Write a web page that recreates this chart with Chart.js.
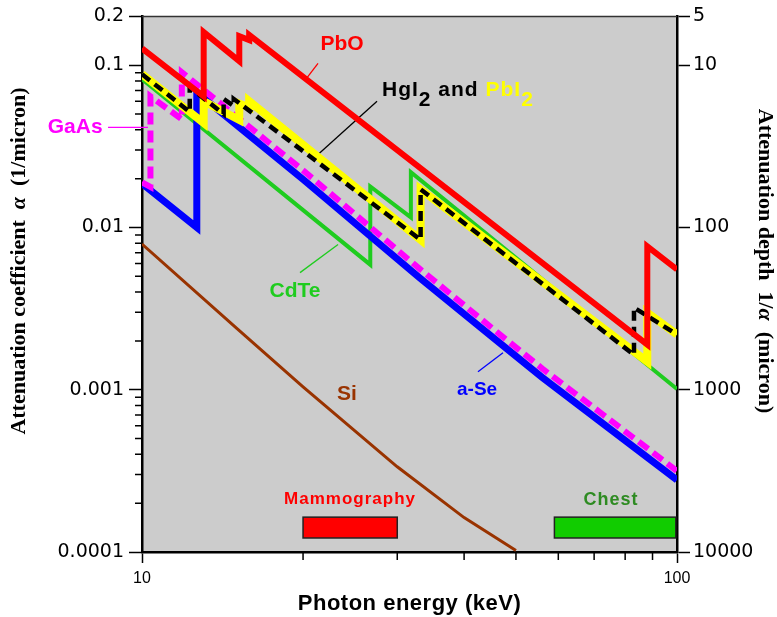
<!DOCTYPE html>
<html>
<head>
<meta charset="utf-8">
<script src="https://cdn.jsdelivr.net/npm/chart.js@4.4.1/dist/chart.umd.min.js"></script>
<style>
  body { margin: 0; background: #fff; }
  canvas { display: block; }
</style>
</head>
<body>
<canvas id="chart" width="777" height="617"></canvas>
<script>
// Photon energy (keV) and attenuation coefficient alpha (1/micron)
// absorption edges appear twice (value below / above the edge)
const pboEnergy = [10, 13.04, 13.04, 15.2, 15.2, 15.86, 15.86, 88.0, 88.0, 100];
const pboAlpha = [0.127, 0.0644, 0.16, 0.106, 0.151, 0.143, 0.154, 0.0019, 0.00764, 0.00551];

const hgi2Energy = [10, 12.28, 12.28, 14.21, 14.21, 14.84, 14.84, 33.17, 33.17, 83.1, 83.1, 100];
const hgi2Alpha = [0.088, 0.0516, 0.0731, 0.05, 0.062, 0.056, 0.062, 0.0084, 0.0172, 0.00164, 0.00321, 0.00219];

const pbi2Energy = [10, 13.04, 13.04, 15.2, 15.2, 15.86, 15.86, 33.17, 33.17, 88.0, 88.0, 100];
const pbi2Alpha = [0.088, 0.044, 0.06, 0.046, 0.058, 0.055, 0.06, 0.0084, 0.0172, 0.00149, 0.00299, 0.00219];

const gaasEnergy = [10, 10.37, 10.37, 11.87, 11.87, 20, 33, 47, 56, 72, 100];
const gaasAlpha = [0.019, 0.0178, 0.0644, 0.0464, 0.0906, 0.0225, 0.00558, 0.00215, 0.00135, 0.000721, 0.000316];

const aseEnergy = [10, 12.66, 12.66, 20, 33, 47, 56, 72, 100];
const aseAlpha = [0.0187, 0.01, 0.068, 0.0198, 0.00491, 0.0019, 0.00119, 0.000634, 0.000278];

const cdteEnergy = [10, 26.71, 26.71, 31.81, 31.81, 100];
const cdteAlpha = [0.082, 0.0059, 0.0179, 0.01153, 0.0219, 0.00101];

const siEnergy = [10, 15, 20, 30, 40, 50];
const siAlpha = [0.0079, 0.00241, 0.00104, 0.000335, 0.000163, 0.000102];

// imaging energy bands (keV)
const mammoBand = [20, 30];
const chestBand = [59, 99.5];
const bandAlpha = [0.000122, 0.000164];

// axis ticks
const energyTicks = [10, 100];
const energyLabels = ["10", "100"];
const energyMinor = [20, 30, 40, 50, 60, 70, 80, 90];
const alphaTicks = [0.0001, 0.001, 0.01, 0.1, 0.2];
const alphaLabels = ["0.0001", "0.001", "0.01", "0.1", "0.2"];
const depthTicks = [10000, 1000, 100, 10, 5];

function toPoints(energy, alpha) {
  return energy.map((e, i) => ({ x: e, y: alpha[i] }));
}

// labels placed at [energy, alpha]
const labels = [
  { text: "PbO", e: 23.65, a: 0.1348, color: "#ff0000", size: 21 },
  { text: "GaAs", e: 7.5, a: 0.0414, color: "#ff00ff", size: 21 },
  { text: "CdTe", e: 19.32, a: 0.00403, color: "#1fcc1f", size: 21 },
  { text: "a-Se", e: 42.3, a: 0.001, color: "#0000ff", size: 19 },
  { text: "Si", e: 24.16, a: 0.000945, color: "#993300", size: 21 },
  { text: "Mammography", e: 24.48, a: 0.000212, color: "#ff0000", size: 17, spacing: "1px" },
  { text: "Chest", e: 75.3, a: 0.00021, color: "#2e8b22", size: 18, spacing: "1px" },
];

// leader lines from label to curve
const leaders = [
  { e: [21.33, 20.25], a: [0.1028, 0.082], color: "#ff0000" },
  { e: [27.5, 21.33], a: [0.06, 0.0282], color: "#000000" },
  { e: [8.64, 10.26], a: [0.0414, 0.0414], color: "#ff00ff" },
  { e: [19.74, 23.25], a: [0.00527, 0.00785], color: "#1fcc1f" },
  { e: [42.46, 47.29], a: [0.00129, 0.00169], color: "#0000ff" },
];

const sans = "'Liberation Sans', Arial, sans-serif";
const wide = "'DejaVu Sans', Verdana, sans-serif";
const serif = "'Liberation Serif', 'Times New Roman', serif";

const decorations = {
  id: "decorations",
  beforeDraw(chart) {
    const { ctx, chartArea: a } = chart;
    ctx.save();
    ctx.fillStyle = "#cccccc";
    ctx.fillRect(a.left, a.top, a.right - a.left, a.bottom - a.top);
    ctx.restore();
  },
  beforeDatasetsDraw(chart) {
    const { ctx } = chart;
    const x = chart.scales.x;
    const y = chart.scales.y;
    // energy bands
    const bands = [[mammoBand, "#ff0000"], [chestBand, "#11cc00"]];
    ctx.save();
    bands.forEach(([band, color]) => {
      const x0 = x.getPixelForValue(band[0]);
      const x1 = x.getPixelForValue(band[1]);
      const y0 = y.getPixelForValue(bandAlpha[1]);
      const y1 = y.getPixelForValue(bandAlpha[0]);
      ctx.fillStyle = color;
      ctx.fillRect(x0, y0, x1 - x0, y1 - y0);
      ctx.strokeStyle = "#222";
      ctx.lineWidth = 1.5;
      ctx.strokeRect(x0, y0, x1 - x0, y1 - y0);
    });
    // leader lines
    ctx.lineWidth = 1.3;
    leaders.forEach((l) => {
      ctx.strokeStyle = l.color;
      ctx.beginPath();
      ctx.moveTo(x.getPixelForValue(l.e[0]), y.getPixelForValue(l.a[0]));
      ctx.lineTo(x.getPixelForValue(l.e[1]), y.getPixelForValue(l.a[1]));
      ctx.stroke();
    });
    ctx.restore();
  },
  afterDraw(chart) {
    const { ctx, chartArea: a } = chart;
    const x = chart.scales.x;
    const y = chart.scales.y;
    ctx.save();

    // top frame line
    ctx.strokeStyle = "#333";
    ctx.lineWidth = 1.5;
    ctx.beginPath();
    ctx.moveTo(a.left, a.top);
    ctx.lineTo(a.right, a.top);
    ctx.stroke();

    // minor ticks
    ctx.strokeStyle = "#000";
    ctx.lineWidth = 1.5;
    ctx.beginPath();
    energyMinor.forEach((e) => {
      const px = x.getPixelForValue(e);
      ctx.moveTo(px, a.bottom);
      ctx.lineTo(px, a.bottom + 8);
    });
    [0.0001, 0.001, 0.01].forEach((d) => {
      for (let m = 2; m <= 9; m++) {
        const py = y.getPixelForValue(d * m);
        ctx.moveTo(a.left - 7, py);
        ctx.lineTo(a.left, py);
      }
    });
    ctx.stroke();

    // curve labels
    ctx.textBaseline = "middle";
    ctx.textAlign = "center";
    labels.forEach((l) => {
      ctx.font = "bold " + l.size + "px " + sans;
      ctx.letterSpacing = l.spacing || "0px";
      ctx.fillStyle = l.color;
      ctx.fillText(l.text, x.getPixelForValue(l.e), y.getPixelForValue(l.a));
    });

    // HgI2 and PbI2 with subscripts
    ctx.textAlign = "left";
    ctx.textBaseline = "alphabetic";
    ctx.font = "bold 21px " + sans;
    ctx.letterSpacing = "1px";
    let px = x.getPixelForValue(28.09);
    const base = y.getPixelForValue(0.0644);
    const parts = [
      ["HgI", "#000", 0], ["2", "#000", 10], [" and ", "#000", 0],
      ["PbI", "#ffff00", 0], ["2", "#ffff00", 10],
    ];
    parts.forEach(([t, c, dy]) => {
      ctx.fillStyle = c;
      ctx.fillText(t, px, base + dy);
      px += ctx.measureText(t).width;
    });

    // axis titles
    ctx.fillStyle = "#000";
    ctx.font = "bold 22px " + sans;
    ctx.letterSpacing = "0.5px";
    ctx.textAlign = "center";
    ctx.textBaseline = "middle";
    ctx.fillText("Photon energy (keV)", (a.left + a.right) / 2, 604);
    ctx.letterSpacing = "0px";

    function rotatedTitle(cx, cy, angle, pieces) {
      ctx.save();
      ctx.translate(cx, cy);
      ctx.rotate(angle);
      ctx.textAlign = "left";
      ctx.textBaseline = "middle";
      let total = 0;
      pieces.forEach((p) => {
        ctx.font = p[1] + " 22px " + serif;
        total += ctx.measureText(p[0]).width;
      });
      let sx = -total / 2;
      pieces.forEach((p) => {
        ctx.font = p[1] + " 22px " + serif;
        ctx.fillText(p[0], sx, 0);
        sx += ctx.measureText(p[0]).width;
      });
      ctx.restore();
    }
    rotatedTitle(19, 261, -Math.PI / 2, [
      ["Attenuation coefficient  ", "bold"],
      ["\u03b1", "italic bold"],
      ["  (1/micron)", "bold"],
    ]);
    rotatedTitle(765, 261, Math.PI / 2, [
      ["Attenuation depth  1/", "bold"],
      ["\u03b1", "italic bold"],
      ["  (micron)", "bold"],
    ]);
    ctx.restore();
  },
};

const ctx = document.getElementById("chart").getContext("2d");

new Chart(ctx, {
  type: "line",
  data: {
    datasets: [
      { label: "PbO", data: toPoints(pboEnergy, pboAlpha), borderColor: "#ff0000", borderWidth: 6, order: 0 },
      { label: "HgI2", data: toPoints(hgi2Energy, hgi2Alpha), borderColor: "#000000", borderWidth: 4.5, borderDash: [10, 6], order: 1 },
      { label: "PbI2", data: toPoints(pbi2Energy, pbi2Alpha), borderColor: "#ffff00", borderWidth: 8, order: 2 },
      { label: "GaAs", data: toPoints(gaasEnergy, gaasAlpha), borderColor: "#ff00ff", borderWidth: 6, borderDash: [12, 6], order: 3 },
      { label: "a-Se", data: toPoints(aseEnergy, aseAlpha), borderColor: "#0000ff", borderWidth: 7, order: 4 },
      { label: "CdTe", data: toPoints(cdteEnergy, cdteAlpha), borderColor: "#1fcc1f", borderWidth: 4, order: 5 },
      { label: "Si", data: toPoints(siEnergy, siAlpha), borderColor: "#993300", borderWidth: 3, order: 6 },
    ],
  },
  options: {
    responsive: false,
    animation: false,
    layout: { padding: { top: 16, left: 0, right: 0, bottom: 0 } },
    elements: {
      point: { radius: 0 },
      line: { tension: 0, borderJoinStyle: "miter", borderCapStyle: "butt", fill: false },
    },
    plugins: { legend: { display: false }, tooltip: { enabled: false } },
    scales: {
      x: {
        type: "logarithmic",
        min: 10,
        max: 100,
        afterBuildTicks: (scale) => { scale.ticks = energyTicks.map((v) => ({ value: v })); },
        afterFit: (scale) => { scale.height = 65; },
        grid: { drawOnChartArea: false, tickLength: 11, tickWidth: 1.5, tickColor: "#000" },
        border: { color: "#000", width: 2.5 },
        ticks: {
          autoSkip: false, maxRotation: 0, padding: 6, color: "#000",
          font: { family: sans, size: 16 },
          callback: (v, i) => energyLabels[i],
        },
      },
      y: {
        type: "logarithmic",
        position: "left",
        min: 0.0001,
        max: 0.2,
        afterBuildTicks: (scale) => { scale.ticks = alphaTicks.map((v) => ({ value: v })); },
        afterFit: (scale) => { scale.width = 142; },
        grid: { drawOnChartArea: false, tickLength: 13, tickWidth: 1.5, tickColor: "#000" },
        border: { color: "#000", width: 2.5 },
        ticks: {
          autoSkip: false, padding: 5, color: "#000",
          font: { family: wide, size: 19 },
          callback: (v, i) => alphaLabels[i],
        },
      },
      depth: {
        type: "logarithmic",
        position: "right",
        min: 0.0001,
        max: 0.2,
        afterBuildTicks: (scale) => { scale.ticks = depthTicks.map((d) => ({ value: 1 / d })); },
        afterFit: (scale) => { scale.width = 100; },
        grid: { drawOnChartArea: false, tickLength: 13, tickWidth: 1.5, tickColor: "#000" },
        border: { color: "#000", width: 2.5 },
        ticks: {
          autoSkip: false, padding: 3, color: "#000",
          font: { family: wide, size: 19 },
          callback: (v, i) => String(depthTicks[i]),
        },
      },
    },
  },
  plugins: [decorations],
});
</script>
</body>
</html>
